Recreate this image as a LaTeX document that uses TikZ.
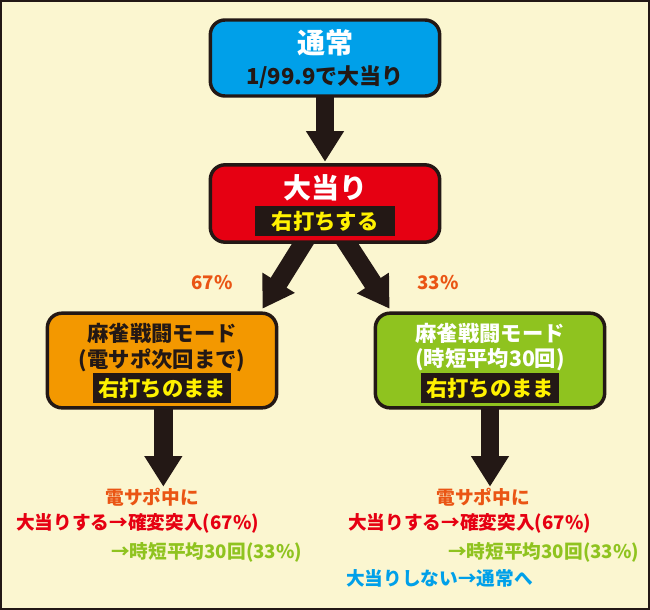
\documentclass[tikz,border=0pt]{standalone}
\usepackage{fontspec}
\setmainfont{Noto Sans CJK JP}
\usetikzlibrary{arrows.meta,backgrounds}

\definecolor{bgcream}{HTML}{FBF6D0}
\definecolor{inkdark}{HTML}{231815}
\definecolor{boxblue}{HTML}{00A0E9}
\definecolor{boxred}{HTML}{E60012}
\definecolor{boxorange}{HTML}{F39800}
\definecolor{boxgreen}{HTML}{8FC31F}
\definecolor{textorange}{HTML}{EA5514}
\definecolor{baryellow}{HTML}{FFF100}

\begin{document}
\begin{tikzpicture}[x=0.75pt,y=0.75pt,yscale=-1,xscale=1,
  modebox/.style={draw=inkdark,line width=2.6pt,rounded corners=11pt,minimum width=172pt,inner sep=0pt},
  ttl/.style={inner sep=0.75pt,text=white,font=\bfseries\fontsize{21}{24}\selectfont},
  sub/.style={inner sep=0.75pt,font=\bfseries\fontsize{16}{19}\selectfont},
  bar/.style={fill=inkdark,text=baryellow,inner sep=0pt,minimum height=22.5pt,font=\bfseries\fontsize{16}{18}\selectfont},
  bigarrow/.style={draw=inkdark,line width=14pt,-{Triangle[width=27pt,length=23pt]}},
  note/.style={inner sep=0.75pt,font=\bfseries\fontsize{14}{16}\selectfont}
]
\useasboundingbox (0,0) rectangle (650,610);

%Shape: Rounded Rect [normal]
\node[modebox,fill=boxblue,minimum height=57pt] (normal) at (325,58) {};
% Text Node
\node[ttl] (normalttl) at (325,43) {通常};
% Text Node
\node[sub,text=inkdark,font=\bfseries\fontsize{16.5}{19}\selectfont] (normalodds) at (325,77) {1/99.9で大当り};

%Shape: Rounded Rect [hit]
\node[modebox,fill=boxred,minimum height=58pt] (hit) at (325,203.5) {};
% Text Node
\node[ttl] (hitttl) at (325,188) {大当り};
% Text Node
\node[bar,minimum width=105pt] (hitbar) at (325,221) {右打ちする};

%Shape: Rounded Rect [densapo]
\node[modebox,fill=boxorange,minimum height=71pt] (densapo) at (162,360.5) {};
% Text Node
\node[sub,text=inkdark] (densapottl) at (162,333) {麻雀戦闘モード};
% Text Node
\node[sub,text=inkdark] (densaposub) at (162,360) {(電サポ次回まで)};
% Text Node
\node[bar,minimum width=104pt] (densapobar) at (162,388) {右打ちのまま};

%Shape: Rounded Rect [jitan]
\node[modebox,fill=boxgreen,minimum height=71pt] (jitan) at (490,360.5) {};
% Text Node
\node[sub,text=white] (jitanttl) at (490,333) {麻雀戦闘モード};
% Text Node
\node[sub,text=white] (jitansub) at (490,360) {(時短平均30回)};
% Text Node
\node[bar,minimum width=104pt] (jitanbar) at (490,388) {右打ちのまま};

% Text Node
\node[note,text=textorange] (pcta) at (212,283) {67\%};
% Text Node
\node[note,text=textorange] (pctb) at (438,283) {33\%};

% Text Node
\node[note,text=textorange] (densaponote) at (152,497) {電サポ中に};
% Text Node
\node[note,text=boxred,anchor=west] (densapohit) at (15,523) {大当りする→確変突入(67\%)};
% Text Node
\node[note,text=boxgreen,anchor=west] (densapojt) at (110,552) {→時短平均30回(33\%)};

% Text Node
\node[note,text=textorange] (jitannote) at (483,497) {電サポ中に};
% Text Node
\node[note,text=boxred,anchor=west] (jitanhit) at (347,523) {大当りする→確変突入(67\%)};
% Text Node
\node[note,text=boxgreen,anchor=west] (jitanjt) at (447,552) {→時短平均30回(33\%)};
% Text Node
\node[note,text=boxblue,anchor=west] (jitanmiss) at (345,578) {大当りしない→通常へ};

\begin{scope}[on background layer]
\fill[bgcream] (0,0) rectangle (650,610);
%Arrows
\draw[bigarrow] ([yshift=-2pt]normal.south) -- ([yshift=-1pt]hit.north);
\draw[bigarrow] ([xshift=-11pt,yshift=-9pt]hit.south) -- ([xshift=-12pt,yshift=-2pt]densapo.north east);
\draw[bigarrow] ([xshift=11pt,yshift=-9pt]hit.south) -- ([xshift=12pt,yshift=-2pt]jitan.north west);
\draw[bigarrow] ([xshift=1pt,yshift=-2pt]densapo.south) -- ([xshift=1pt]densapo.south |- densaponote.north);
\draw[bigarrow] ([yshift=-2pt]jitan.south) -- (jitan.south |- jitannote.north);
\end{scope}

%Frame
\draw[inkdark,line width=1.5pt] (1,1) rectangle (649,609);

\end{tikzpicture}
\end{document}
